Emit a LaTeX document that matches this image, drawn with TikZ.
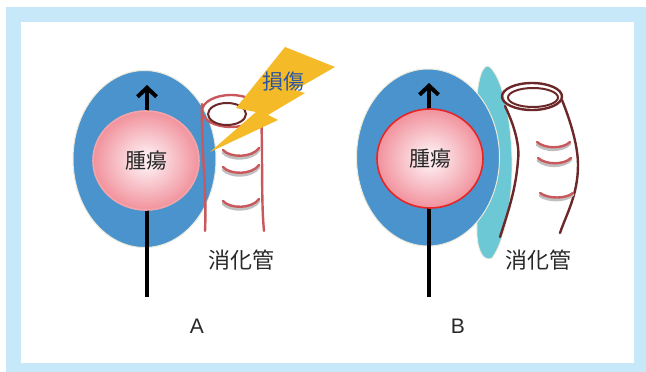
\documentclass[tikz,border=0pt]{standalone}
\usepackage{fontspec}
\setmainfont{Liberation Sans}
\newfontfamily\jpfont{Noto Sans CJK JP}
\usepackage{tikz}
\usetikzlibrary{arrows.meta}
\usetikzlibrary{shapes.geometric}

\definecolor{framebg}{RGB}{198,232,248}
\definecolor{massblue}{RGB}{75,147,205}
\definecolor{rimcream}{RGB}{236,234,218}
\definecolor{tumorin}{RGB}{252,232,236}
\definecolor{tumormid}{RGB}{242,150,160}
\definecolor{tumorout}{RGB}{228,70,80}
\definecolor{tumoredgeA}{RGB}{244,165,170}
\definecolor{tumoredgeB}{RGB}{230,38,38}
\definecolor{gutpink}{RGB}{200,88,92}
\definecolor{gutbrown}{RGB}{108,40,40}
\definecolor{boltyellow}{RGB}{245,186,40}
\definecolor{injuryblue}{RGB}{40,85,165}
\definecolor{fibroteal}{RGB}{108,200,212}
\definecolor{labelgray}{RGB}{40,40,40}

\pgfdeclareradialshading{tumorshade}{\pgfpoint{0bp}{0bp}}{%
  color(0bp)=(tumorin); color(4bp)=(tumorin); color(24bp)=(tumormid);
  color(50bp)=(tumorout)}

\tikzset{
  mass/.style={ellipse, fill=massblue, draw=rimcream, line width=1pt,
               inner sep=0pt, minimum width=143pt, minimum height=177pt},
  tumor/.style={ellipse, shading=tumorshade, line width=1.6pt, inner sep=0pt,
                minimum width=106pt, minimum height=99pt, text=labelgray,
                font=\jpfont\fontsize{21}{21}\selectfont},
  track/.style={line width=4pt, draw=black,
                -{Straight Barb[length=9pt,width=19pt,line width=4pt]}},
  gut/.style={line width=2.4pt, line cap=round},
  fold/.style={gut, draw=gutpink},
  foldshadow/.style={line width=3pt, draw=black!25, line cap=round},
  jplabel/.style={text=labelgray, font=\jpfont\fontsize{22}{22}\selectfont},
  panel/.style={text=labelgray, font=\fontsize{21}{21}\selectfont}
}

\begin{document}
\begin{tikzpicture}[x=1pt,y=-1pt]

	\useasboundingbox (0,0) rectangle (646,372);

	%Frame
	\fill[framebg] (6,7) rectangle (646,372);
	\fill[white] (21,22) rectangle (634,363);

	%%%%%%%%%%%%%%%%%%%%%%%%%%%%%%%%%%%%%%%%%%%%%%%%%%%%
	%Panel A

	\node[mass] (massA) at (144.5,159) {};
	\coordinate (trackA0) at (147,297);
	\coordinate (trackA1) at (147,85);
	\draw[track] (trackA0) -- (trackA1);
	\node[tumor, draw=tumoredgeA] (tumorA) at (146,160.5) {腫瘍};

	% gut wall
	\draw[gut, draw=gutpink] (202,104) .. controls (201,150) and (207,190) .. (205,231);
	\draw[gut, draw=gutpink] (261,110) .. controls (263,160) and (261,200) .. (264,231);
	\foreach \ya/\yb in {150/158, 167/175, 201/209} {
		\draw[foldshadow] (223,\ya+2.5) .. controls (230,\yb+2.5) and (252,\yb+2.5) .. (259,\ya);
		\draw[fold] (223,\ya) .. controls (230,\yb) and (252,\yb) .. (259,\ya-2);
	}
	\draw[gut, draw=gutpink] (231,111) ellipse [x radius=29, y radius=16];
	\draw[line width=2pt, draw=gutbrown] (227,114) ellipse [x radius=19, y radius=11];

	% lightning
	\fill[boltyellow] (285,47) -- (335,67) -- (295,90) -- (305,93) -- (268,115)
		-- (278,120) -- (210,152) -- (256,112) -- (236,108) -- cycle;
	\node[text=injuryblue, font=\jpfont\fontsize{21}{21}\selectfont] (injury) at (283.5,82) {損傷};

	\node[jplabel] (gutA) at (241,260) {消化管};
	\node[panel] (labA) at (197,326) {A};

	%%%%%%%%%%%%%%%%%%%%%%%%%%%%%%%%%%%%%%%%%%%%%%%%%%%%
	%Panel B

	% fibrous layer behind the mass
	\filldraw[fill=fibroteal, draw=rimcream, line width=0.8pt]
		(488,66) .. controls (500,72) and (512,115) .. (512,165)
		.. controls (512,215) and (500,248) .. (492,258)
		.. controls (484,262) and (478,252) .. (477,235)
		-- (476,120) .. controls (476,90) and (480,66) .. (488,66) -- cycle;

	\node[mass] (massB) at (428,157.5) {};
	\coordinate (trackB0) at (429,297);
	\coordinate (trackB1) at (429,83);
	\draw[track] (trackB0) -- (trackB1);
	\node[tumor, draw=tumoredgeB] (tumorB) at (430,158.5) {腫瘍};

	% gut wall
	\draw[gut, draw=gutbrown] (505,106) .. controls (514,125) and (520,145) .. (518,160)
		.. controls (516,190) and (507,215) .. (500,237);
	\draw[gut, draw=gutbrown] (562,100) .. controls (570,120) and (578,145) .. (578,165)
		.. controls (578,195) and (566,215) .. (560,233);
	\foreach \xa/\ya/\yb in {537/142/149, 538/158/165, 540/193/199} {
		\draw[foldshadow] (\xa,\ya+2.5) .. controls (\xa+8,\yb+2.5) and (\xa+26,\yb+2.5) .. (\xa+33,\ya+1.5);
		\draw[fold] (\xa,\ya) .. controls (\xa+8,\yb) and (\xa+26,\yb) .. (\xa+33,\ya);
	}
	\draw[gut, draw=gutbrown] (532,96.5) ellipse [x radius=30, y radius=13.5];
	\draw[line width=2pt, draw=gutbrown] (533,97.5) ellipse [x radius=25, y radius=9.5];

	\node[jplabel] (gutB) at (538,260) {消化管};
	\node[panel] (labB) at (458,326) {B};

\end{tikzpicture}
\end{document}
